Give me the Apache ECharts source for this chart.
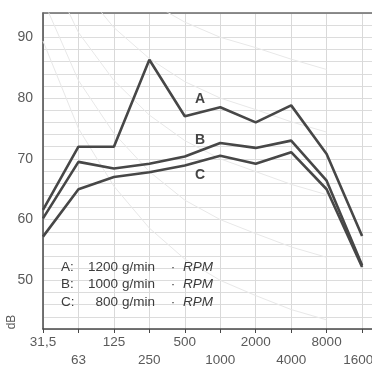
<!DOCTYPE html>
<html>
<head>
<meta charset="utf-8">
<script src="https://cdn.jsdelivr.net/npm/echarts@6/dist/echarts.min.js"></script>
<style>
  html, body { margin: 0; padding: 0; background: #fff; }
  #chart { width: 372px; height: 367px; }
</style>
</head>
<body>
<div id="chart"></div>
<script>
// octave band centre frequencies (Hz)
const bands = ["31,5", "63", "125", "250", "500", "1000", "2000", "4000", "8000", "16000"];

// sound level per band, dB
const levelA = [61.6, 72.0, 72.0, 86.3, 77.0, 78.5, 76.0, 78.8, 70.8, 57.3];
const levelB = [60.2, 69.5, 68.4, 69.2, 70.4, 72.6, 71.8, 73.0, 66.4, 52.5];
const levelC = [57.2, 65.0, 67.0, 67.8, 68.9, 70.5, 69.2, 71.1, 65.0, 52.2];

// faint noise-rating curves in the background (31,5 .. 8000 Hz)
const nr50 = [89.4, 75.0, 65.5, 58.6, 53.5, 50, 47.5, 45.2, 43.5];
const nr60 = [96.2, 82.9, 74.2, 67.9, 63.2, 60, 57.7, 55.5, 53.8];
const nr70 = [103.0, 90.8, 82.9, 77.2, 73.0, 70, 67.9, 65.8, 64.1];
const nr80 = [109.8, 98.7, 91.6, 86.5, 82.7, 80, 78.1, 76.1, 74.4];
const nr90 = [116.6, 106.6, 100.3, 95.8, 92.5, 90, 88.3, 86.4, 84.7];
const nr100 = [123.4, 114.5, 109.0, 105.1, 102.2, 100, 98.5, 96.7, 95.0];

const legendRows = [
  { key: "A:", rate: "1200" },
  { key: "B:", rate: "1000" },
  { key: "C:", rate: "800" },
];

const ink = "#474747";
const textColor = "#5a5a5a";
const font = "'Liberation Sans', Arial, sans-serif";

function pairs(values) {
  return values.map((v, i) => [i, v]);
}

function levelSeries(name, values) {
  return {
    name,
    type: "line",
    data: pairs(values),
    symbol: "none",
    lineStyle: { color: ink, width: 2.6 },
    z: 5,
  };
}

function nrSeries(values) {
  return {
    type: "line",
    data: pairs(values),
    symbol: "none",
    silent: true,
    lineStyle: { color: "#e8e8e8", width: 1 },
    z: 1,
  };
}

function label(x, y, text, extra) {
  return {
    type: "text",
    x,
    y,
    z: 10,
    style: { text, fill: "#3c3c3c", font: `13.5px ${font}`, align: "left", verticalAlign: "middle", ...extra },
  };
}

const legendText = [];
legendRows.forEach((row, i) => {
  const y = 267 + i * 17.5;
  legendText.push(label(61, y, row.key));
  legendText.push(label(118, y, row.rate, { align: "right" }));
  legendText.push(label(122, y, "g/min"));
  legendText.push(label(173, y, "·", { align: "center" }));
  legendText.push(label(183, y, "RPM", { font: `italic 13.5px ${font}` }));
});

const curveLabel = (text, y) => label(200, y, text, { font: `bold 14px ${font}`, fill: "#444", align: "center" });

const chart = echarts.init(document.getElementById("chart"), null, { renderer: "canvas" });

chart.setOption({
  animation: false,
  backgroundColor: "#fff",
  textStyle: { fontFamily: font },
  grid: { left: 43, right: 0, top: 13, bottom: 38, containLabel: false, outerBoundsMode: "none" },
  xAxis: [
    {
      type: "value",
      min: 0,
      max: 9.28,
      interval: 1,
      axisLine: { lineStyle: { color: ink, width: 1.5 } },
      axisTick: { show: true, length: 4, lineStyle: { color: ink } },
      axisLabel: {
        color: textColor,
        fontSize: 13.5,
        lineHeight: 18,
        margin: 4,
        showMaxLabel: false,
        formatter: (v) => {
          if (!Number.isInteger(v) || v > 9) return "";
          return v % 2 ? "\n" + bands[v] : bands[v];
        },
      },
      splitLine: { show: true, lineStyle: { color: "#d9d9d9", width: 1 } },
    },
    {
      type: "value",
      position: "top",
      min: 0,
      max: 9.28,
      axisLine: { show: true, lineStyle: { color: "#6a6a6a", width: 1.5 } },
      axisTick: { show: false },
      axisLabel: { show: false },
      splitLine: { show: false },
    },
  ],
  yAxis: {
    type: "value",
    min: 42,
    max: 94,
    interval: 2,
    axisLine: { show: true, lineStyle: { color: ink, width: 1.5 } },
    axisTick: { show: false },
    axisLabel: {
      color: textColor,
      fontSize: 14,
      margin: 10,
      formatter: (v) => (v % 10 === 0 && v >= 50 && v <= 90 ? String(v) : ""),
    },
    splitLine: { show: true, lineStyle: { color: "#dcdcdc", width: 1 } },
  },
  series: [
    nrSeries(nr50),
    nrSeries(nr60),
    nrSeries(nr70),
    nrSeries(nr80),
    nrSeries(nr90),
    nrSeries(nr100),
    levelSeries("A", levelA),
    levelSeries("B", levelB),
    levelSeries("C", levelC),
  ],
  graphic: [
    curveLabel("A", 99),
    curveLabel("B", 140),
    curveLabel("C", 175),
    {
      type: "text",
      x: 12,
      y: 322,
      rotation: Math.PI / 2,
      style: { text: "dB", fill: textColor, font: `12px ${font}`, align: "center", verticalAlign: "middle" },
    },
    ...legendText,
  ],
});
</script>
</body>
</html>
